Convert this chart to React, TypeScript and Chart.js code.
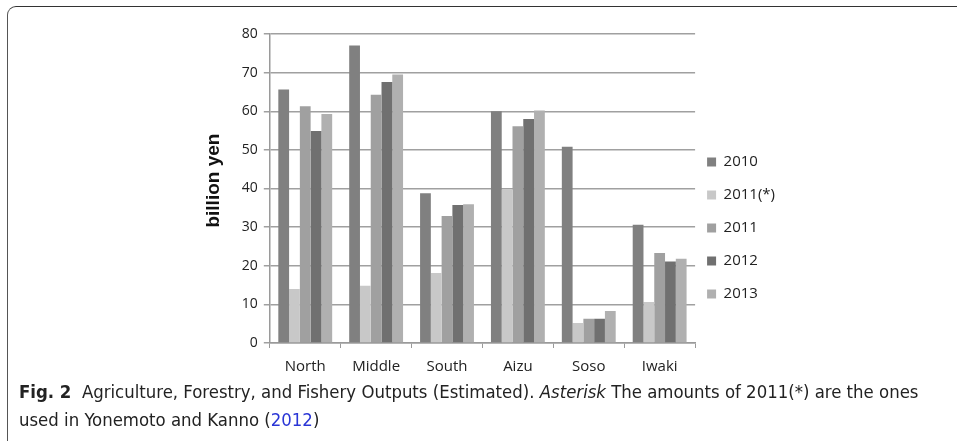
import React, { useEffect, useRef } from "react";
import { Chart, registerables } from "chart.js";

Chart.register(...registerables);

const categories = ["North", "Middle", "South", "Aizu", "Soso", "Iwaki"];
const seriesNames = ["2010", "2011(*)", "2011", "2012", "2013"];
const values2010 = [65.6, 77.0, 38.8, 60.0, 50.8, 30.6];
const values2011Star = [14.0, 14.8, 18.1, 39.8, 5.2, 10.6];
const values2011 = [61.3, 64.3, 32.9, 56.1, 6.3, 23.3];
const values2012 = [54.9, 67.6, 35.7, 58.0, 6.3, 21.1];
const values2013 = [59.3, 69.5, 35.9, 60.2, 8.3, 21.8];
const seriesColors = ["#808080", "#c8c8c8", "#a0a0a0", "#707070", "#b0b0b0"];
const yTicks = [0, 10, 20, 30, 40, 50, 60, 70, 80];

const tickFont = "'Open Sans', 'Noto Sans', sans-serif";

const legendShift = {
  id: "legendShift",
  afterLayout(chart: any) {
    const l = chart.legend;
    if (!l) return;
    l.top += 18;
    l.bottom += 18;
    l.left -= 6;
    l.right -= 6;
  },
};

export default function App() {
  const ref = useRef<HTMLCanvasElement>(null);
  useEffect(() => {
    if (!ref.current) return;
    const all = [values2010, values2011Star, values2011, values2012, values2013];
    const chart = new Chart(ref.current, {
      type: "bar",
      data: {
        labels: categories,
        datasets: all.map((d, i) => ({
          label: seriesNames[i],
          data: d,
          backgroundColor: seriesColors[i],
          borderWidth: 0,
          categoryPercentage: 0.76,
          barPercentage: 1,
        })),
      },
      options: {
        animation: false,
        responsive: false,
        maintainAspectRatio: false,
        layout: { padding: { left: 202, right: 166, top: 34, bottom: 5 } },
        plugins: {
          legend: {
            position: "right",
            align: "center",
            labels: {
              boxWidth: 9,
              boxHeight: 9,
              padding: 18,
              color: "#222",
              font: { family: tickFont, size: 15 },
            },
          },
          tooltip: { enabled: false },
          title: { display: false },
        },
        scales: {
          x: {
            grid: {
              display: true,
              drawOnChartArea: false,
              offset: true,
              tickLength: 5,
              color: "#9a9a9a",
            },
            border: { color: "#9a9a9a", width: 1.5 },
            ticks: { color: "#222", font: { family: tickFont, size: 15 }, padding: 10 },
          },
          y: {
            min: 0,
            max: 80,
            afterBuildTicks: (axis: any) => {
              axis.ticks = yTicks.map((v) => ({ value: v }));
            },
            grid: { color: "#a0a0a0", lineWidth: 1.5, tickLength: 6 },
            border: { color: "#9a9a9a", width: 1.5 },
            ticks: { color: "#222", font: { family: tickFont, size: 14 }, padding: 6 },
            title: {
              display: true,
              text: "   billion yen",
              color: "#111",
              font: { family: "'Liberation Sans', Arial, sans-serif", size: 19, weight: "bold" },
              padding: { top: 0, bottom: 11 },
            },
          },
        },
      },
      plugins: [legendShift],
    });
    return () => chart.destroy();
  }, []);

  return (
    <div style={{ position: "fixed", left: 0, top: 0, width: 957, height: 441, background: "#fff", overflow: "hidden" }}>
      <div
        style={{
          position: "absolute",
          left: 7,
          top: 6,
          width: 1000,
          height: 460,
          borderLeft: "1.5px solid #555",
          borderTop: "1.5px solid #333",
          borderTopLeftRadius: 9,
          boxSizing: "border-box",
        }}
      />
      <canvas ref={ref} width={957} height={391} style={{ position: "absolute", left: 0, top: 0, width: 957, height: 391 }} />
      <div
        style={{
          position: "absolute",
          left: 19,
          top: 378,
          width: 935,
          fontFamily: "'DejaVu Sans Condensed', 'DejaVu Sans', sans-serif",
          fontSize: 18.4,
          lineHeight: "28px",
          color: "#222",
          whiteSpace: "nowrap",
        }}
      >
        <b>Fig. 2</b>&nbsp; Agriculture, Forestry, and Fishery Outputs (Estimated). <i>Asterisk</i> The amounts of 2011(*) are the ones
        <br />
        used in Yonemoto and Kanno (<span style={{ color: "#2a36d6" }}>2012</span>)
      </div>
    </div>
  );
}
